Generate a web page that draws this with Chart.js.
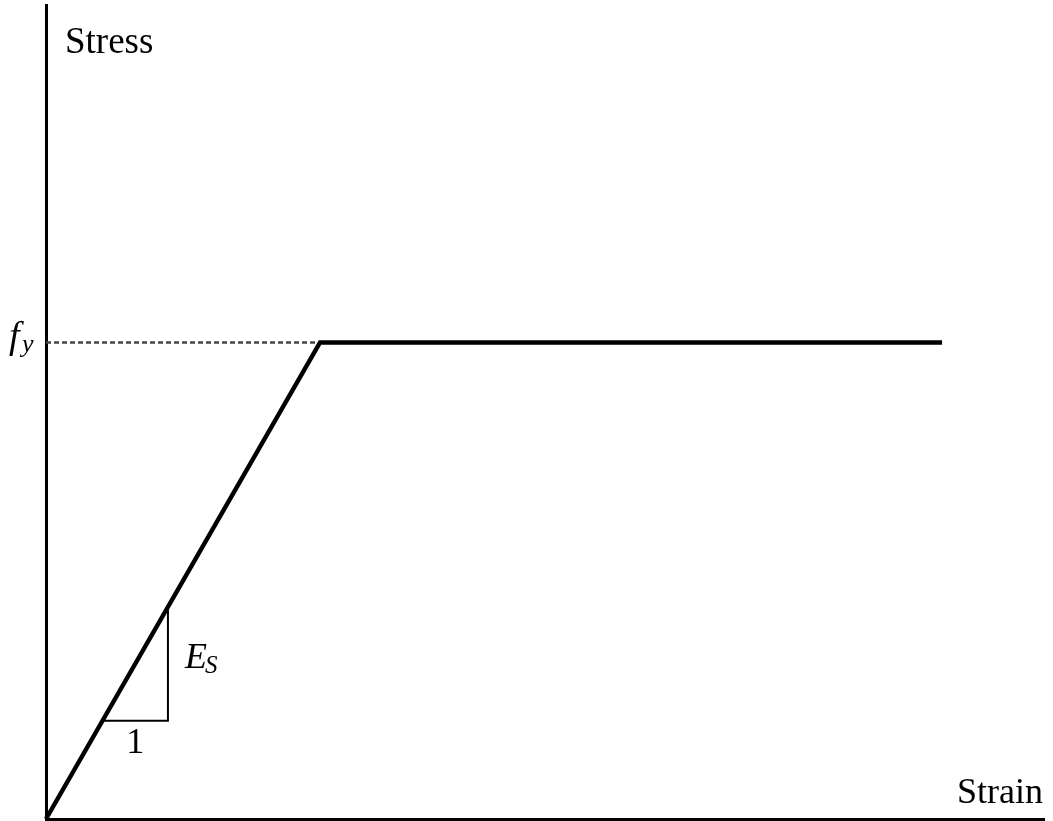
<!DOCTYPE html>
<html>
<head>
<meta charset="utf-8">
<script src="https://cdn.jsdelivr.net/npm/chart.js@4/dist/chart.umd.min.js"></script>
<style>
html,body{margin:0;padding:0;background:#fff;}
#wrap{width:1053px;height:821px;position:relative;}
</style>
</head>
<body>
<div id="wrap"><canvas id="c" width="1053" height="821"></canvas></div>
<script>
// Elastic-perfectly-plastic stress-strain (units: strain / yield strain, stress / fy)
const strain = [0, 1, 3.27];
const stress = [0, 1, 1];
const yieldGuideStrain = [0, 1];
const yieldGuideStress = [1, 1];
const slopeTriStrain = [0.206, 0.445, 0.445];
const slopeTriStress = [0.206, 0.206, 0.445];
const axisMax = { x: 3.642, y: 1.708 };
const fy = 1;

const zip = (xs, ys) => xs.map((x, i) => ({ x, y: ys[i] }));

const labelsPlugin = {
  id: 'labels',
  afterDatasetsDraw(chart) {
    const { ctx, chartArea, scales } = chart;
    ctx.save();
    ctx.fillStyle = '#000';
    ctx.textBaseline = 'alphabetic';
    const serif = '"Liberation Serif", "Times New Roman", serif';
    // Axis titles
    ctx.font = '37px ' + serif;
    ctx.textAlign = 'left';
    ctx.fillText('Stress', chartArea.left + 19, 53);
    ctx.font = '36px ' + serif;
    ctx.textAlign = 'right';
    ctx.fillText('Strain', chartArea.right - 1, chartArea.bottom - 16);
    // fy label
    const yFy = scales.y.getPixelForValue(fy);
    ctx.textAlign = 'left';
    ctx.font = 'italic 38px ' + serif;
    ctx.fillText('f', 9, yFy + 6);
    ctx.font = 'italic 26px ' + serif;
    ctx.fillText('y', 22, yFy + 10);
    // Es label
    const xTri = scales.x.getPixelForValue(slopeTriStrain[1]);
    const yTriTop = scales.y.getPixelForValue(slopeTriStress[2]);
    const yTriBot = scales.y.getPixelForValue(slopeTriStress[0]);
    const yMid = (yTriTop + yTriBot) / 2;
    ctx.font = 'italic 36px ' + serif;
    ctx.fillText('E', xTri + 17, yMid + 4);
    ctx.font = 'italic 25px ' + serif;
    ctx.fillText('S', xTri + 37, yMid + 9);
    // "1" label
    const xTriL = scales.x.getPixelForValue(slopeTriStrain[0]);
    ctx.font = '36px ' + serif;
    ctx.textAlign = 'center';
    ctx.fillText('1', (xTriL + xTri) / 2, yTriBot + 32);
    ctx.restore();
  }
};

new Chart(document.getElementById('c'), {
  type: 'scatter',
  data: {
    datasets: [
      {
        data: zip(yieldGuideStrain, yieldGuideStress),
        showLine: true,
        borderColor: '#444',
        borderWidth: 2.5,
        borderDash: [5, 3],
        pointRadius: 0,
        clip: false,
        order: 3
      },
      {
        data: zip(slopeTriStrain, slopeTriStress),
        showLine: true,
        borderColor: '#000',
        borderWidth: 2,
        pointRadius: 0,
        clip: false,
        order: 2
      },
      {
        data: zip(strain, stress),
        showLine: true,
        borderColor: '#000',
        borderWidth: 4.5,
        borderJoinStyle: 'miter',
        borderCapStyle: 'butt',
        pointRadius: 0,
        clip: false,
        order: 1
      }
    ]
  },
  options: {
    responsive: false,
    animation: false,
    events: [],
    layout: { padding: { left: 46, top: 5, right: 9, bottom: 2 } },
    plugins: { legend: { display: false }, tooltip: { enabled: false } },
    scales: {
      x: {
        type: 'linear', min: 0, max: axisMax.x,
        ticks: { display: false },
        grid: { display: false, drawTicks: false },
        border: { display: true, color: '#000', width: 3 }
      },
      y: {
        type: 'linear', min: 0, max: axisMax.y,
        ticks: { display: false },
        grid: { display: false, drawTicks: false },
        border: { display: true, color: '#000', width: 3 }
      }
    }
  },
  plugins: [labelsPlugin]
});
</script>
</body>
</html>
